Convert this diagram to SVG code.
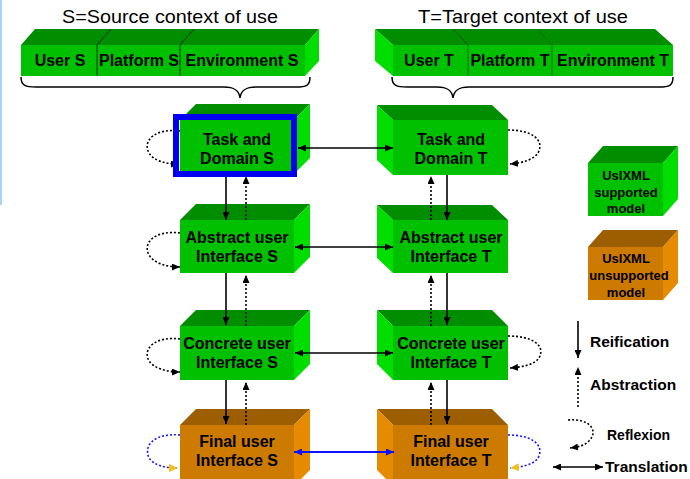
<svg xmlns="http://www.w3.org/2000/svg" width="690" height="479" viewBox="0 0 690 479">
  <style>
    .gf { fill: #00c000; }
    .gt { fill: #008e00; }
    .gs { fill: #00de00; }
    .of { fill: #cc7a00; }
    .ot { fill: #9c5e00; }
    .os { fill: #e68a00; }
    .lbl { font-family: "Liberation Sans", Arial, sans-serif; font-weight: bold; font-size: 16px; fill: #000; text-anchor: middle; }
    .leg { font-family: "Liberation Sans", Arial, sans-serif; font-weight: bold; font-size: 13px; fill: #000; text-anchor: middle; }
    .key { font-family: "Liberation Sans", Arial, sans-serif; font-weight: bold; font-size: 15.5px; fill: #000; }
    .title { font-family: "Liberation Sans", Arial, sans-serif; font-size: 19px; fill: #000; text-anchor: middle; }
    .solid { stroke: #000; stroke-width: 1.6; fill: none; }
    .dot { stroke: #000; stroke-width: 1.6; stroke-dasharray: 2 2; fill: none; }
    .bdot { stroke: #1a1aff; stroke-width: 1.6; stroke-dasharray: 2 2; fill: none; }
    .bsolid { stroke: #1010ff; stroke-width: 1.8; fill: none; }
    .brace { stroke: #000; stroke-width: 1.5; fill: none; }
  </style>
  <defs>
    <marker id="ah" viewBox="0 0 8 7" refX="8" refY="3.5" markerWidth="8" markerHeight="7" markerUnits="userSpaceOnUse" orient="auto-start-reverse">
      <path d="M0,0 L8,3.5 L0,7 z" fill="#000"/>
    </marker>
    <marker id="ahb" viewBox="0 0 8 7" refX="8" refY="3.5" markerWidth="8" markerHeight="7" markerUnits="userSpaceOnUse" orient="auto-start-reverse">
      <path d="M0,0 L8,3.5 L0,7 z" fill="#1010ff"/>
    </marker>
    <marker id="ahy" viewBox="0 0 8 7" refX="8" refY="3.5" markerWidth="9" markerHeight="8" markerUnits="userSpaceOnUse" orient="auto">
      <path d="M0,0 L8,3.5 L0,7 z" fill="#f0c020"/>
    </marker>
  </defs>

  <rect width="690" height="479" fill="#fff"/>
  <rect x="0" y="0" width="2" height="205" fill="#a8d4fa"/>

  <!-- titles -->
  <text class="title" x="170" y="23" textLength="216" lengthAdjust="spacingAndGlyphs">S=Source context of use</text>
  <text class="title" x="523" y="23" textLength="210" lengthAdjust="spacingAndGlyphs">T=Target context of use</text>

  <!-- source context bar -->
  <g id="context-s">
    <polygon class="gt" points="21,45 35,29 319,29 305,45"/>
    <polygon class="gs" points="305,45 319,29 319,61 305,76"/>
    <rect class="gf" x="21" y="45" width="284" height="31"/>
    <line x1="97" y1="45" x2="97" y2="76" stroke="#003000" stroke-width="1"/>
    <line x1="97" y1="45" x2="111" y2="29" stroke="#003000" stroke-width="1"/>
    <line x1="180" y1="45" x2="180" y2="76" stroke="#003000" stroke-width="1"/>
    <line x1="180" y1="45" x2="194" y2="29" stroke="#003000" stroke-width="1"/>
    <text class="lbl" x="60" y="66">User S</text>
    <text class="lbl" x="139" y="66">Platform S</text>
    <text class="lbl" x="242" y="66">Environment S</text>
    <path class="brace" d="M21,77 C21,86 26,87 36,87 L224,87 C234,87 239,90 240,98 C241,90 246,87 256,87 L296,87 C306,87 310,86 310,77"/>
  </g>

  <!-- target context bar -->
  <g id="context-t">
    <polygon class="gt" points="393,45 375,29 655,29 673,45"/>
    <polygon class="gs" points="393,45 375,29 375,61 393,76"/>
    <rect class="gf" x="393" y="45" width="280" height="31"/>
    <line x1="468" y1="45" x2="468" y2="76" stroke="#007000" stroke-width="1"/>
    <line x1="468" y1="45" x2="453" y2="29" stroke="#005000" stroke-width="1"/>
    <line x1="552" y1="45" x2="552" y2="76" stroke="#007000" stroke-width="1"/>
    <line x1="552" y1="45" x2="537" y2="29" stroke="#007000" stroke-width="1"/>
    <text class="lbl" x="429" y="66">User T</text>
    <text class="lbl" x="510" y="66">Platform T</text>
    <text class="lbl" x="613" y="66">Environment T</text>
    <path class="brace" d="M392,77 C392,86 397,87 407,87 L437,87 C447,87 452,90 453,98 C454,90 459,87 469,87 L659,87 C669,87 673,86 673,77"/>
  </g>

  <!-- source column -->
  <g id="task-s">
    <polygon class="gt" points="180,120 196,104 310,104 294,120"/>
    <polygon class="gs" points="294,120 310,104 310,158 294,174"/>
    <rect class="gf" x="180" y="120" width="114" height="54"/>
  </g>
  <g id="aui-s">
    <polygon class="gt" points="180,220 196,204 310,204 294,220"/>
    <polygon class="gs" points="294,220 310,204 310,257 294,273"/>
    <rect class="gf" x="180" y="220" width="114" height="53"/>
    <text class="lbl" x="237" y="243">Abstract user</text>
    <text class="lbl" x="237" y="262">Interface S</text>
  </g>
  <g id="cui-s">
    <polygon class="gt" points="180,326 196,310 310,310 294,326"/>
    <polygon class="gs" points="294,326 310,310 310,364 294,380"/>
    <rect class="gf" x="180" y="326" width="114" height="54"/>
    <text class="lbl" x="237" y="349">Concrete user</text>
    <text class="lbl" x="237" y="368">Interface S</text>
  </g>
  <g id="fui-s">
    <polygon class="ot" points="180,425 196,409 310,409 294,425"/>
    <polygon class="os" points="294,425 310,409 310,470 294,486"/>
    <rect class="of" x="180" y="425" width="114" height="60"/>
    <text class="lbl" x="237" y="447">Final user</text>
    <text class="lbl" x="237" y="466">Interface S</text>
  </g>

  <!-- target column -->
  <g id="task-t">
    <polygon class="gt" points="393,120 377,105 492,105 508,120"/>
    <polygon class="gs" points="393,120 377,105 377,160 393,175"/>
    <rect class="gf" x="393" y="120" width="115" height="55"/>
    <text class="lbl" x="451" y="145">Task and</text>
    <text class="lbl" x="451" y="164">Domain T</text>
  </g>
  <g id="aui-t">
    <polygon class="gt" points="393,220 377,205 492,205 508,220"/>
    <polygon class="gs" points="393,220 377,205 377,258 393,273"/>
    <rect class="gf" x="393" y="220" width="115" height="53"/>
    <text class="lbl" x="451" y="243">Abstract user</text>
    <text class="lbl" x="451" y="262">Interface T</text>
  </g>
  <g id="cui-t">
    <polygon class="gt" points="393,326 377,310 492,310 508,326"/>
    <polygon class="gs" points="393,326 377,310 377,364 393,380"/>
    <rect class="gf" x="393" y="326" width="115" height="54"/>
    <text class="lbl" x="451" y="349">Concrete user</text>
    <text class="lbl" x="451" y="368">Interface T</text>
  </g>
  <g id="fui-t">
    <polygon class="ot" points="393,425 377,409 492,409 508,425"/>
    <polygon class="os" points="393,425 377,409 377,470 393,486"/>
    <rect class="of" x="393" y="425" width="115" height="60"/>
    <text class="lbl" x="451" y="447">Final user</text>
    <text class="lbl" x="451" y="466">Interface T</text>
  </g>

  <!-- connectors -->
  <g id="connectors">
    <!-- reification (down) -->
    <line class="solid" x1="226" y1="175" x2="226" y2="220" marker-end="url(#ah)"/>
    <line class="solid" x1="226" y1="273" x2="226" y2="325" marker-end="url(#ah)"/>
    <line class="solid" x1="226" y1="380" x2="226" y2="424" marker-end="url(#ah)"/>
    <line class="solid" x1="447" y1="175" x2="447" y2="220" marker-end="url(#ah)"/>
    <line class="solid" x1="447" y1="273" x2="447" y2="325" marker-end="url(#ah)"/>
    <line class="solid" x1="447" y1="380" x2="447" y2="424" marker-end="url(#ah)"/>
    <!-- abstraction (up) -->
    <line class="dot" x1="246" y1="220" x2="246" y2="176" marker-end="url(#ah)"/>
    <line class="dot" x1="246" y1="326" x2="246" y2="275" marker-end="url(#ah)"/>
    <line class="dot" x1="246" y1="425" x2="246" y2="382" marker-end="url(#ah)"/>
    <line class="dot" x1="431" y1="220" x2="431" y2="176" marker-end="url(#ah)"/>
    <line class="dot" x1="431" y1="326" x2="431" y2="275" marker-end="url(#ah)"/>
    <line class="dot" x1="431" y1="425" x2="431" y2="382" marker-end="url(#ah)"/>
    <!-- translation -->
    <line class="solid" x1="298" y1="148" x2="393" y2="148" marker-start="url(#ah)" marker-end="url(#ah)"/>
    <line class="solid" x1="295" y1="247" x2="393" y2="247" marker-start="url(#ah)" marker-end="url(#ah)"/>
    <line class="solid" x1="295" y1="353" x2="393" y2="353" marker-start="url(#ah)" marker-end="url(#ah)"/>
    <line class="bsolid" x1="294" y1="452" x2="394" y2="452" marker-start="url(#ahb)" marker-end="url(#ahb)"/>
    <!-- reflexion loops, source side -->
    <path class="dot" d="M180,131 C156,128 142,140 149,153 C154,161 166,164 179,164" marker-end="url(#ah)"/>
    <path class="dot" d="M180,233 C156,230 142,242 149,255 C154,263 166,267 180,267" marker-end="url(#ah)"/>
    <path class="dot" d="M180,339 C156,336 142,348 149,361 C154,368 166,372 180,372" marker-end="url(#ah)"/>
    <path class="bdot" d="M180,435 C156,433 143,444 149,458 C154,465 164,468 178,468" marker-end="url(#ahy)"/>
    <!-- reflexion loops, target side -->
    <path class="dot" d="M508,130 C532,130 545,140 538,153 C533,160 522,163 510,164" marker-end="url(#ah)"/>
    <path class="dot" d="M508,336 C532,336 546,345 539,358 C534,365 522,367 510,368" marker-end="url(#ah)"/>
    <path class="bdot" d="M508,435 C532,435 545,445 538,458 C533,465 522,467 510,468" marker-end="url(#ahy)"/>
  </g>

  <!-- highlighted starting model, drawn above its connectors -->
  <g id="task-s-highlight">
    <rect x="176" y="117" width="118" height="57" fill="none" stroke="#0000f0" stroke-width="6"/>
    <text class="lbl" x="237" y="145">Task and</text>
    <text class="lbl" x="237" y="164">Domain S</text>
  </g>

  <!-- key -->
  <g id="key-supported">
    <polygon class="gt" points="588,163 603,146 678,146 663,163"/>
    <polygon class="gs" points="663,163 678,146 678,199 663,216"/>
    <rect class="gf" x="588" y="163" width="75" height="53"/>
    <text class="leg" x="626" y="180">UsIXML</text>
    <text class="leg" x="626" y="197">supported</text>
    <text class="leg" x="626" y="213">model</text>
  </g>
  <g id="key-unsupported">
    <polygon class="ot" points="588,247 603,230 678,230 663,247"/>
    <polygon class="os" points="663,247 678,230 678,283 663,300"/>
    <rect class="of" x="588" y="247" width="75" height="53"/>
    <text class="leg" x="626" y="263">UsIXML</text>
    <text class="leg" x="629" y="280">unsupported</text>
    <text class="leg" x="626" y="297">model</text>
  </g>
  <g id="key-links">
    <line class="solid" x1="578" y1="321" x2="578" y2="358" marker-end="url(#ah)"/>
    <text class="key" x="590" y="347">Reification</text>
    <line class="dot" x1="578" y1="407" x2="578" y2="367" marker-end="url(#ah)"/>
    <text class="key" x="590" y="390">Abstraction</text>
    <path class="dot" d="M568,420 C590,418 599,431 589,441 C584,446 578,447 570,448" marker-end="url(#ah)"/>
    <text class="key" x="607" y="440" style="font-size:14px">Reflexion</text>
    <line class="solid" x1="553" y1="467" x2="603" y2="467" marker-start="url(#ah)" marker-end="url(#ah)"/>
    <text class="key" x="605" y="472">Translation</text>
  </g>
</svg>
